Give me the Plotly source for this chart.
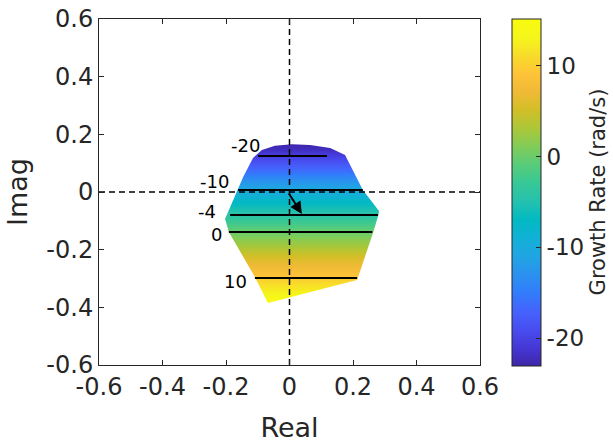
import plotly.graph_objects as go

# ---------------- data ----------------
# Boundary of the eigenvalue region (Real, Imag), clockwise
POLY_REAL = [-0.146, -0.115, -0.087, -0.046, 0.008, 0.065, 0.128, 0.175, 0.231,
             0.282, 0.279, 0.263, 0.213, -0.068, -0.109, -0.191, -0.203, -0.187, -0.162]
POLY_IMAG = [0.052, 0.118, 0.146, 0.160, 0.166, 0.163, 0.153, 0.128, 0.007,
             -0.066, -0.083, -0.142, -0.305, -0.385, -0.295, -0.139, -0.094, -0.052, 0.007]

# Growth rate (rad/s) read across the region, row by row (Imag level -> value)
ROW_IMAG = [0.17, 0.15, 0.13, 0.11, 0.09, 0.07, 0.05, 0.03, 0.01, -0.01, -0.03, -0.05,
            -0.07, -0.09, -0.11, -0.13, -0.15, -0.17, -0.19, -0.21, -0.23, -0.25,
            -0.27, -0.29, -0.31, -0.33, -0.35, -0.37, -0.39]
ROW_GROWTH = [-23.0, -22.0, -20.6, -19.0, -17.3, -15.6, -13.8, -12.0, -10.3, -8.8, -7.4, -6.1,
              -4.7, -3.4, -2.0, -0.6, 0.7, 2.0, 3.2, 4.4, 5.7, 6.9,
              8.1, 9.4, 10.7, 11.9, 13.1, 14.3, 15.2]

# Contour lines of growth rate
CONTOUR_LEVELS = [-20, -10, -4, 0, 10]
CONTOUR_IMAG = [0.125, 0.007, -0.080, -0.139, -0.298]
CONTOUR_X0 = [-0.099, -0.162, -0.187, -0.191, -0.109]
CONTOUR_X1 = [0.118, 0.231, 0.279, 0.261, 0.213]
LABEL_X = [-0.087, -0.184, -0.225, -0.206, -0.128]
LABEL_Y = [0.163, 0.035, -0.069, -0.146, -0.312]

# Arrow (start -> end)
ARROW_START = (-0.005, 0.0)
ARROW_END = (0.039, -0.076)

CB_MIN, CB_MAX = -23.0, 15.2
CB_TICKS = [-20, -10, 0, 10]
CB_TICKTEXT = ["-20", "-10", "0", "10"]
AX_TICKS = [-0.6, -0.4, -0.2, 0, 0.2, 0.4, 0.6]
AX_TICKTEXT = ["-0.6", "-0.4", "-0.2", "0", "0.2", "0.4", "0.6"]

# parula colormap
PARULA = [
    (0.2422, 0.1504, 0.6603), (0.2706, 0.2147, 0.8364), (0.2813, 0.3006, 0.9414),
    (0.2699, 0.3892, 0.9906), (0.1963, 0.4847, 0.9892), (0.1687, 0.5703, 0.9359),
    (0.1248, 0.6459, 0.8883), (0.0689, 0.6948, 0.8394), (0.0067, 0.7312, 0.7660),
    (0.1408, 0.7584, 0.6842), (0.2161, 0.7843, 0.5923), (0.3406, 0.8008, 0.4789),
    (0.5044, 0.7993, 0.3480), (0.6720, 0.7793, 0.2227), (0.8203, 0.7498, 0.1535),
    (0.9393, 0.7288, 0.2100), (0.9970, 0.7659, 0.2199), (0.9739, 0.8637, 0.1643),
    (0.9626, 0.9656, 0.1044), (0.9763, 0.9831, 0.0538),
]
n = len(PARULA)
colorscale = [[i / (n - 1), "rgb(%d,%d,%d)" % tuple(round(c * 255) for c in rgb)]
              for i, rgb in enumerate(PARULA)]

FONT = "DejaVu Sans"
TXT = "#262626"

fig = go.Figure()

# Gradient field over the bounding box of the region
hx = [-0.22 + 0.02 * i for i in range(27)]
fig.add_trace(go.Heatmap(
    x=hx, y=ROW_IMAG, z=[[g] * len(hx) for g in ROW_GROWTH],
    zmin=CB_MIN, zmax=CB_MAX, colorscale=colorscale, zsmooth="best",
    hoverinfo="skip",
    colorbar=dict(
        x=1.084, xanchor="left", xref="paper", xpad=0, y=0.5, yanchor="middle",
        ypad=0, len=1.003, lenmode="fraction", thickness=29,
        outlinewidth=1, outlinecolor=TXT,
        tickvals=CB_TICKS, ticktext=CB_TICKTEXT, ticks="inside", ticklen=5, tickcolor=TXT,
        tickfont=dict(family=FONT, size=23, color=TXT),
        title=dict(text="Growth Rate (rad/s)", side="right",
                   font=dict(family=FONT, size=21, color=TXT)),
    ),
))

# White mask outside the region (rectangle with the region as a hole)
mx0, mx1, my0, my1 = -0.26, 0.34, -0.43, 0.21
mask_x = [mx0, mx1, mx1, mx0, mx0, None] + POLY_REAL + [POLY_REAL[0]]
mask_y = [my0, my0, my1, my1, my0, None] + POLY_IMAG + [POLY_IMAG[0]]
fig.add_trace(go.Scatter(x=mask_x, y=mask_y, mode="lines", fill="toself",
                         fillcolor="white", line=dict(width=0), hoverinfo="skip",
                         showlegend=False))

# Dashed real/imag axes
fig.add_trace(go.Scatter(x=[-0.6, 0.6], y=[0, 0], mode="lines",
                         line=dict(color="black", width=1.5, dash="6px,4px"),
                         showlegend=False, hoverinfo="skip"))
fig.add_trace(go.Scatter(x=[0, 0], y=[-0.6, 0.6], mode="lines",
                         line=dict(color="black", width=1.5, dash="6px,4px"),
                         showlegend=False, hoverinfo="skip"))

# Contour lines
for lev, yy, x0, x1 in zip(CONTOUR_LEVELS, CONTOUR_IMAG, CONTOUR_X0, CONTOUR_X1):
    fig.add_trace(go.Scatter(x=[x0, x1], y=[yy, yy], mode="lines",
                             line=dict(color="black", width=2),
                             showlegend=False, hoverinfo="skip"))

annotations = []
for lev, lx, ly in zip(CONTOUR_LEVELS, LABEL_X, LABEL_Y):
    annotations.append(dict(x=lx, y=ly, xref="x", yref="y", text=str(lev),
                            showarrow=False, xanchor="right", yanchor="middle",
                            font=dict(family=FONT, size=18, color="black")))
annotations.append(dict(x=ARROW_END[0], y=ARROW_END[1], ax=ARROW_START[0], ay=ARROW_START[1],
                        xref="x", yref="y", axref="x", ayref="y", text="",
                        showarrow=True, arrowhead=2, arrowsize=1.2, arrowwidth=2,
                        arrowcolor="black", standoff=0, startstandoff=0))

axis_common = dict(
    showgrid=False, zeroline=False, showline=True, linecolor=TXT, linewidth=1,
    mirror="ticks", ticks="inside", ticklen=5, tickcolor=TXT,
    tickvals=AX_TICKS, ticktext=AX_TICKTEXT,
    tickfont=dict(family=FONT, size=24, color=TXT),
)
fig.update_layout(
    width=613, height=443,
    margin=dict(l=99, r=133, t=19, b=78, autoexpand=False),
    plot_bgcolor="white", paper_bgcolor="white",
    showlegend=False,
    xaxis=dict(range=[-0.6, 0.6], title=dict(text="Real", standoff=20,
               font=dict(family=FONT, size=27, color=TXT)), **axis_common),
    yaxis=dict(range=[-0.6, 0.6], title=dict(text="Imag", standoff=10,
               font=dict(family=FONT, size=27, color=TXT)), **axis_common),
    annotations=annotations,
)

fig.write_html("out.html", config={"displayModeBar": False},
               post_script="document.body.style.margin='0';document.body.style.overflow='hidden';")
